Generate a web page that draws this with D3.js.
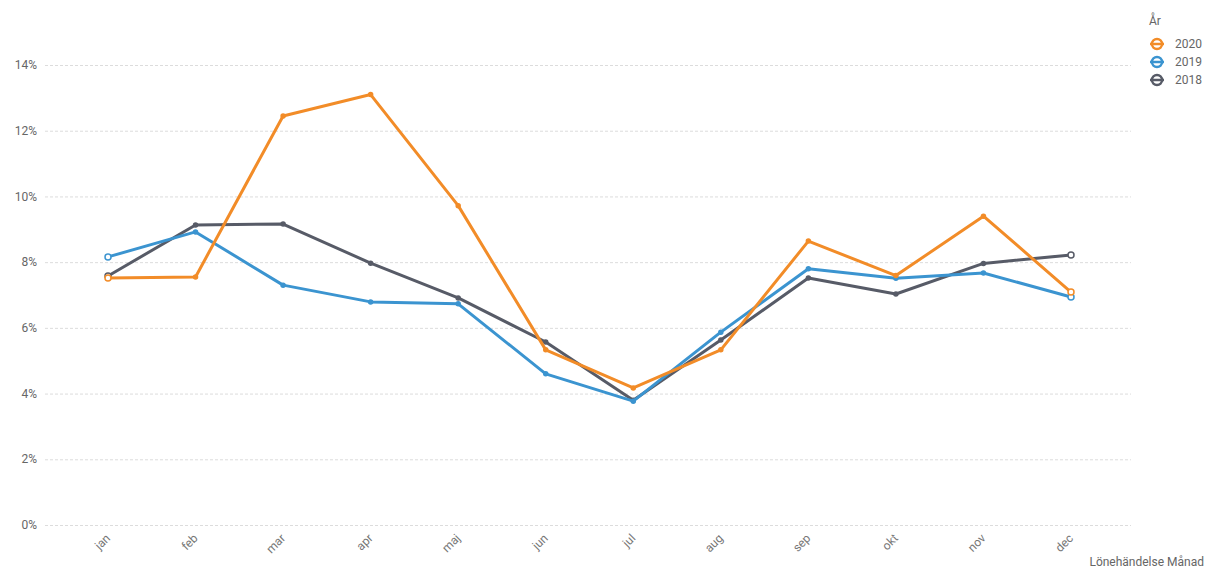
<!DOCTYPE html>
<html>
<head>
<meta charset="utf-8">
<script src="https://cdn.jsdelivr.net/npm/d3@7"></script>
<style>
  body { margin: 0; background: #fff; }
  text { font-family: Roboto, "Liberation Sans", sans-serif; }
</style>
</head>
<body>
<div id="chart"></div>
<script>
// data
const months = ["jan", "feb", "mar", "apr", "maj", "jun", "jul", "aug", "sep", "okt", "nov", "dec"];
const years = ["2020", "2019", "2018"];
const v2020 = [7.52, 7.55, 12.45, 13.1, 9.72, 5.33, 4.17, 5.33, 8.64, 7.59, 9.40, 7.09];
const v2019 = [8.16, 8.92, 7.30, 6.79, 6.73, 4.60, 3.77, 5.87, 7.80, 7.51, 7.67, 6.94];
const v2018 = [7.58, 9.13, 9.16, 7.97, 6.91, 5.57, 3.80, 5.63, 7.52, 7.03, 7.96, 8.22];
const yTicks = [0, 2, 4, 6, 8, 10, 12, 14];

const series = [
  { name: "2020", values: v2020, color: "#f28c28" },
  { name: "2019", values: v2019, color: "#3b94d0" },
  { name: "2018", values: v2018, color: "#575b67" }
];

let width = 1206, height = 572;

let svg = d3.select("#chart")
  .append("svg")
  .attr("width", width)
  .attr("height", height);

let x = d3.scalePoint().domain(months).range([108, 1071]);
let y = d3.scaleLinear().domain([0, 14]).range([525, 65]);

// gridlines
svg.append("g")
  .selectAll("line")
  .data(yTicks)
  .join("line")
  .attr("x1", 45)
  .attr("x2", 1131)
  .attr("y1", d => y(d) + 0.5)
  .attr("y2", d => y(d) + 0.5)
  .attr("stroke", "#dcdcdc")
  .attr("stroke-width", 1)
  .attr("stroke-dasharray", "3,2");

// y labels
svg.append("g")
  .selectAll("text")
  .data(yTicks)
  .join("text")
  .attr("x", 37)
  .attr("y", d => y(d))
  .attr("dy", "0.35em")
  .attr("text-anchor", "end")
  .attr("font-size", 12)
  .attr("fill", "#666")
  .text(d => d + "%");

// x labels, rotated
svg.append("g")
  .selectAll("text")
  .data(months)
  .join("text")
  .attr("transform", d => `translate(${x(d)},${536}) rotate(-45)`)
  .attr("text-anchor", "end")
  .attr("dy", "0.35em")
  .attr("font-size", 12)
  .attr("fill", "#777")
  .text(d => d);

svg.append("text")
  .attr("x", 1204)
  .attr("y", 566)
  .attr("text-anchor", "end")
  .attr("font-size", 12)
  .attr("fill", "#666")
  .text("Lönehändelse Månad");

// lines, drawn 2018 first so 2020 is on top
let line = d3.line()
  .x((d, i) => x(months[i]))
  .y(d => y(d));

series.slice().reverse().forEach(function (s) {
  let g = svg.append("g");
  g.append("path")
    .datum(s.values)
    .attr("d", line)
    .attr("fill", "none")
    .attr("stroke", s.color)
    .attr("stroke-width", 3)
    .attr("stroke-linejoin", "round");
  g.selectAll("circle")
    .data(s.values)
    .join("circle")
    .attr("cx", (d, i) => x(months[i]))
    .attr("cy", d => y(d))
    .attr("r", (d, i) => (i === 0 || i === months.length - 1) ? 3 : 2)
    .attr("fill", (d, i) => (i === 0 || i === months.length - 1) ? "#fff" : s.color)
    .attr("stroke", s.color)
    .attr("stroke-width", 1.5);
});

// legend
let legend = svg.append("g");
legend.append("text")
  .attr("x", 1149)
  .attr("y", 25)
  .attr("font-size", 12)
  .attr("fill", "#666")
  .text("År");

let items = legend.selectAll("g.item")
  .data(series)
  .join("g")
  .attr("class", "item")
  .attr("transform", (d, i) => `translate(1157, ${44 + i * 18})`);

items.append("circle")
  .attr("r", 5)
  .attr("fill", "#fff")
  .attr("stroke", d => d.color)
  .attr("stroke-width", 2.5);
items.append("line")
  .attr("x1", -7)
  .attr("x2", 7)
  .attr("stroke", d => d.color)
  .attr("stroke-width", 2.5);
items.append("text")
  .attr("x", 18)
  .attr("dy", "0.35em")
  .attr("font-size", 12)
  .attr("fill", "#666")
  .text(d => d.name);
</script>
</body>
</html>
